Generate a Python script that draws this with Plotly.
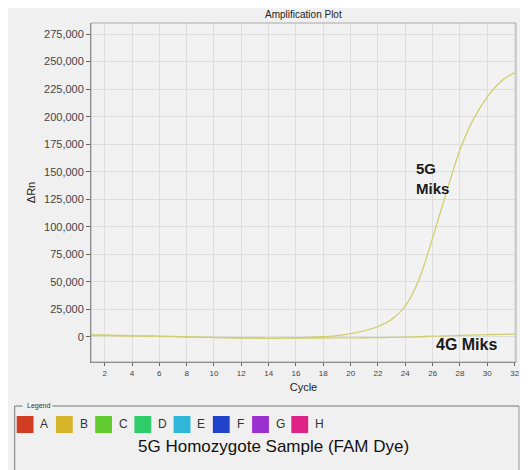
import plotly.graph_objects as go

cycles = list(range(1, 33))
g5_values = [2000, 1800, 1500, 1200, 1000, 800, 500, 0, -300, -500, -700, -900, -1100, -1200,
             -1000, -700, -300, 300, 1200, 3000, 5500, 9500, 16000, 28000, 52000, 90000,
             131000, 170000, 198000, 218000, 232000, 240000]
g4_values = [1500, 1300, 1100, 900, 700, 500, 300, 0, -200, -400, -600, -800, -900, -1000,
             -1000, -1000, -900, -900, -800, -800, -700, -600, -400, -200, 200, 700,
             1000, 1400, 1800, 2100, 2400, 2600]
y_ticks = [0, 25000, 50000, 75000, 100000, 125000, 150000, 175000, 200000, 225000, 250000, 275000]
x_ticks = list(range(2, 33, 2))
legend_labels = ["A", "B", "C", "D", "E", "F", "G", "H"]
legend_colors = ["#d23c22", "#d6b52a", "#62cc30", "#2fcc6a", "#2fb6d8", "#2242cc", "#9a30d0", "#de2288"]

OFF = 8  # page body margin
W, H = 528 - OFF, 470 - OFF
L, R, T, B = 91, 520, 23, 362  # plot area in screenshot pixels


def px(x):
    return (x - L) / (R - L)


def py(y):
    return (B - y) / (B - T)


fig = go.Figure()
line_col = "#cfcf70"
fig.add_trace(go.Scatter(x=cycles, y=g5_values, mode="lines",
                         line=dict(color=line_col, width=1.3, shape="spline", smoothing=0.8),
                         name="5G Miks", showlegend=False))
fig.add_trace(go.Scatter(x=cycles, y=g4_values, mode="lines",
                         line=dict(color=line_col, width=1.3, shape="spline", smoothing=0.8),
                         name="4G Miks", showlegend=False))

shapes = []
annotations = []
shapes.append(dict(type="rect", xref="paper", yref="paper", x0=0, x1=1, y0=0, y1=1,
                   line=dict(color="#a8a8a8", width=1), layer="above"))
# legend box
shapes.append(dict(type="line", xref="paper", yref="paper", x0=px(14), x1=px(14),
                   y0=py(406), y1=py(470), line=dict(color="#777", width=1)))
shapes.append(dict(type="line", xref="paper", yref="paper", x0=px(14), x1=px(22),
                   y0=py(406), y1=py(406), line=dict(color="#777", width=1)))
shapes.append(dict(type="line", xref="paper", yref="paper", x0=px(52), x1=px(523),
                   y0=py(406), y1=py(406), line=dict(color="#777", width=1)))
shapes.append(dict(type="line", xref="paper", yref="paper", x0=px(523), x1=px(523),
                   y0=py(406), y1=py(470), line=dict(color="#999", width=1)))
annotations.append(dict(text="Legend", xref="paper", yref="paper", x=px(24), y=py(406),
                        xanchor="left", yanchor="middle", showarrow=False,
                        font=dict(size=7, color="#333", family="Liberation Sans")))
for i, (lab, col) in enumerate(zip(legend_labels, legend_colors)):
    x0 = 16 + i * 39.6
    shapes.append(dict(type="rect", xref="paper", yref="paper", x0=px(x0), x1=px(x0 + 17),
                       y0=py(433), y1=py(416), fillcolor=col, line=dict(width=0)))
    annotations.append(dict(text=lab, xref="paper", yref="paper", x=px(x0 + 22), y=py(424.5),
                            xanchor="left", yanchor="middle", showarrow=False,
                            font=dict(size=12, color="#333", family="Liberation Sans")))
annotations.append(dict(text="5G Homozygote Sample (FAM Dye)", xref="paper", yref="paper",
                        x=px(275), y=py(446), xanchor="center", yanchor="middle", showarrow=False,
                        font=dict(size=17, color="#111", family="Liberation Sans")))
annotations.append(dict(text="Amplification Plot", xref="paper", yref="paper",
                        x=0.5, y=py(15), xanchor="center", yanchor="middle", showarrow=False,
                        font=dict(size=10, color="#222", family="Liberation Sans")))
annotations.append(dict(text="<b>5G<br>Miks</b>", x=24.6, y=144000, xanchor="left", yanchor="middle",
                        showarrow=False, align="left",
                        font=dict(size=15, color="#1a1a1a", family="Liberation Sans")))
annotations.append(dict(text="<b>4G Miks</b>", x=28.45, y=-7000, xanchor="center", yanchor="middle",
                        showarrow=False,
                        font=dict(size=16, color="#1a1a1a", family="Liberation Sans")))

fig.update_layout(
    width=W, height=H,
    margin=dict(l=L - OFF, r=W - (R - OFF), t=T - OFF, b=H - (B - OFF)),
    paper_bgcolor="#f0f0f0", plot_bgcolor="#f2f2f2",
    font=dict(family="Liberation Sans", size=9, color="#333"),
    shapes=shapes, annotations=annotations,
    xaxis=dict(range=[1, 32.1], tickvals=x_ticks, ticks="outside", ticklen=3, tickcolor="#666",
               showline=True, linecolor="#777", linewidth=1, gridcolor="#dedede", zeroline=False,
               tickfont=dict(size=8, color="#444"),
               title=dict(text="Cycle", font=dict(size=11, color="#222"), standoff=6)),
    yaxis=dict(range=[-22700, 285000], tickvals=y_ticks, tickformat=",", ticks="outside", ticklen=4,
               tickcolor="#666", showline=True, linecolor="#777", linewidth=1, gridcolor="#dedede",
               zeroline=False, tickfont=dict(size=11, color="#444"),
               title=dict(text="ΔRn", font=dict(size=11, color="#222"), standoff=6)),
)
fig.write_html("out.html")
